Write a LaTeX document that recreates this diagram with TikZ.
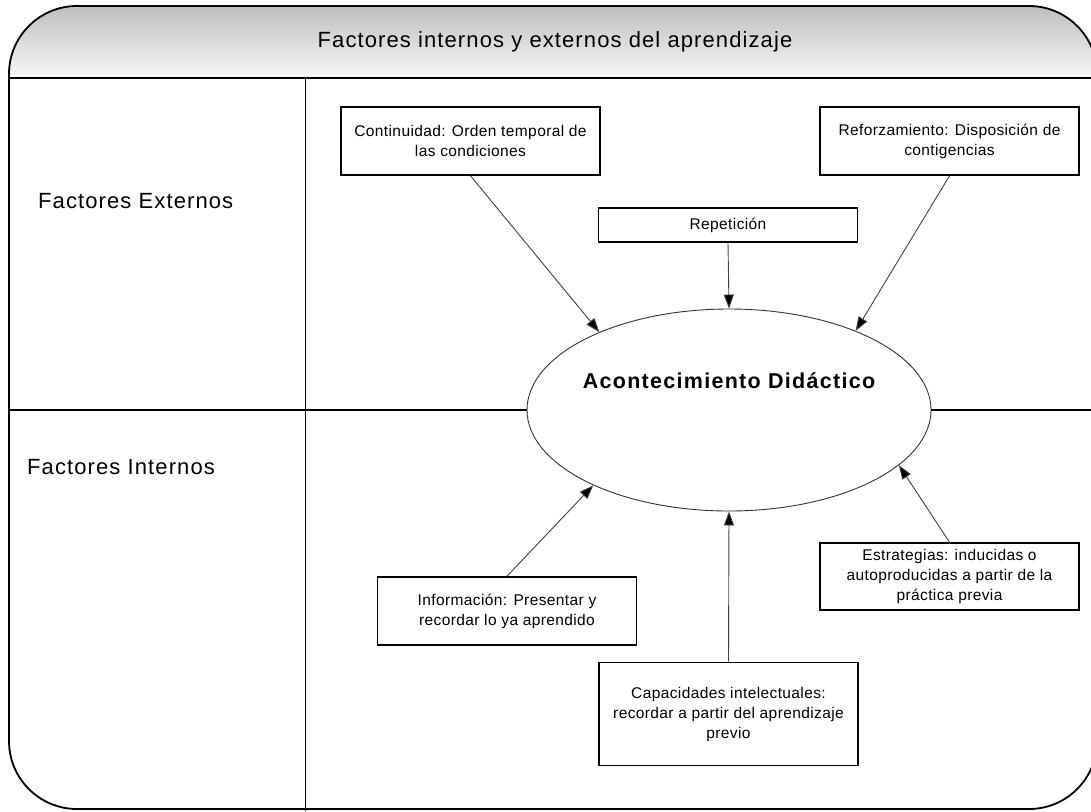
\documentclass[tikz,border=0pt]{standalone}
\usepackage{fontspec}
\setmainfont[LetterSpace=2.5]{Liberation Sans}
\newfontfamily\titlefont[LetterSpace=5]{Liberation Sans}
\newfontfamily\eventfont[LetterSpace=6]{Liberation Sans}
\usetikzlibrary{shapes.geometric,arrows.meta}

\begin{document}
\begin{tikzpicture}[x=1pt,y=-1pt,
  frame/.style={line width=1.8pt},
  factor/.style={draw,line width=1.6pt,minimum width=259pt,align=center,
    inner sep=3pt,font=\fontsize{15.5}{20}\selectfont,fill=white},
  link/.style={draw=black!75,line width=0.9pt,-{Triangle[length=14pt,width=10pt,fill=black]}},
  side/.style={font=\titlefont\fontsize{22}{26}\selectfont,anchor=west,inner sep=0pt}]

\useasboundingbox (0,0) rectangle (1091,811);

% frame with shaded header band
\begin{scope}
  \clip (0,0) rectangle (1091,811);
  \begin{scope}
    \clip[rounded corners=68pt] (9,6) rectangle (1097,809);
    \shade[top color=black!27,bottom color=black!3] (0,0) rectangle (1100,78);
  \end{scope}
  \draw[frame,rounded corners=68pt] (9,6) rectangle (1097,809);
  \draw[frame] (9,78) -- (1097,78);
  \draw[line width=1pt] (305,78) -- (305,811);
\end{scope}

\node[font=\titlefont\fontsize{22}{26}\selectfont] (title) at (555,42) {Factores internos y externos del aprendizaje};

\node[side] (ext) at (38,201) {Factores Externos};
\node[side] (int) at (27,467) {Factores Internos};

% central event
\coordinate (leftedge) at (9,410);
\coordinate (rightedge) at (1091,410);
\node[ellipse,draw=black!80,line width=0.9pt,minimum width=404pt,minimum height=202pt,
  inner sep=0pt,fill=white] (ev) at (729,410) {};
\draw[line width=1.5pt] (leftedge) -- (ev.west);
\draw[line width=1.5pt] (ev.east) -- (rightedge);
\node[font=\eventfont\bfseries\fontsize{21.5}{25}\selectfont] (evlabel) at (729,381) {Acontecimiento Didáctico};

% external factors
\node[factor,minimum height=68pt] (cont) at (470.5,141) {Continuidad: Orden temporal de\\las condiciones};
\node[factor,minimum height=68pt] (refo) at (949.5,141) {Reforzamiento: Disposición de\\contigencias};
\node[factor,minimum height=34pt] (rep) at (728,225) {Repetición};

% internal factors
\node[factor,minimum height=67pt] (estr) at (949.5,576.5) {Estrategias: inducidas o\\autoproducidas a partir de la\\práctica previa};
\node[factor,minimum height=68pt] (info) at (507,611) {Información: Presentar y\\recordar lo ya aprendido};
\node[factor,minimum height=103pt] (cap) at (728.5,714) {Capacidades intelectuales:\\recordar a partir del aprendizaje\\previo};

% influences on the event
\draw[link] (cont.south) -- (ev.149);
\draw[link] (rep.south) -- (ev.north);
\draw[link] (refo.south) -- (ev.32);
\draw[link] (info.north) -- (ev.209);
\draw[link] (cap.north) -- (ev.south);
\draw[link] (estr.north) -- (ev.342);
\end{tikzpicture}
\end{document}
